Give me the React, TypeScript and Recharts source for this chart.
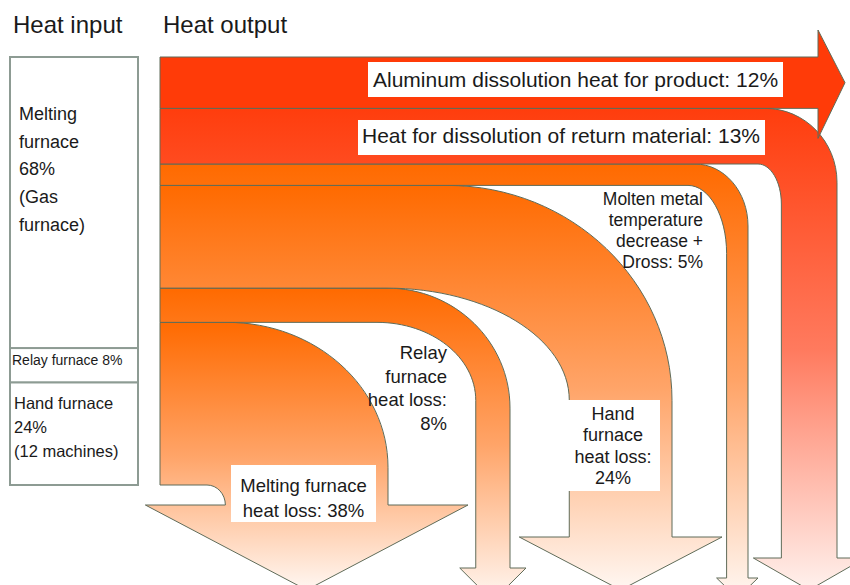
import React from "react"
import { BarChart, Bar, XAxis, YAxis } from "recharts"

const FONT = '"Liberation Sans", Arial, Helvetica, sans-serif'

// heat input (stacked bottom -> top)
const inputKeys = ["hand", "relay", "melting"]
const inputValues = [24, 8, 68]
const inputLabels = [
  ["Hand furnace", "24%", "(12 machines)"],
  ["Relay furnace 8%"],
  ["Melting", "furnace", "68%", "(Gas", "furnace)"],
]

// heat output (stacked bottom -> top)
const outputKeys = ["meltLoss", "relayLoss", "handLoss", "molten", "returnMat", "product"]
const outputValues = [38, 8, 24, 5, 13, 12]
const outputLabels = [
  ["Melting furnace", "heat loss: 38%"],
  ["Relay", "furnace", "heat loss:", "8%"],
  ["Hand", "furnace", "heat loss:", "24%"],
  ["Molten metal", "temperature", "decrease +", "Dross: 5%"],
  ["Heat for dissolution of return material: 13%"],
  ["Aluminum dissolution heat for product: 12%"],
]

const row: Record<string, string | number> = { name: "heat" }
inputKeys.forEach((k, i) => (row[k] = inputValues[i]))
outputKeys.forEach((k, i) => (row[k] = outputValues[i]))
const chartData = [row]

const inputText: Record<string, any> = {
  melting: { x: 19, first: 63, step: 27.7, size: 18 },
  relay: { x: 12, first: 17, step: 0, size: 14 },
  hand: { x: 14, first: 27, step: 24, size: 16.5 },
}

const orange = ["#ff6a00", "#ffa468", "#fff7f2"]
const flowLayout: Record<string, any> = {
  meltLoss: { outerStart: 227, shaftR: 388, outerRy: 145, innerStart: 207, innerRy: 20, arrowY: 505, ext: 80, tipY: 590, colors: orange },
  relayLoss: { outerStart: 387, shaftR: 510, outerRy: 120, innerStart: 377, innerRy: 78, arrowY: 568, ext: 16, tipY: 601, colors: orange },
  handLoss: { outerStart: 447, shaftR: 672, outerRy: 215, innerStart: 387, innerRy: 112, arrowY: 537, ext: 50, tipY: 590, colors: orange },
  molten: { outerStart: 695, shaftR: 748, outerRy: 62, innerStart: 688, innerRy: 68, arrowY: 578, ext: 10, tipY: 598, colors: orange },
  returnMat: { outerStart: 765, shaftR: 837, outerRy: 74, innerStart: 758, innerRy: 40, arrowY: 558, ext: 28, tipY: 590, colors: ["#ff3d0d", "#ff7a5e", "#fff1ed"] },
  product: { end: 818, headUp: 27, headDown: 30, tipX: 845, colors: ["#ff3b08", "#ff3b08", "#ff3b08"] },
}

const labelLayout: Record<string, any> = {
  meltLoss: { box: [231, 465, 145, 57], x: 303.5, y: 492, step: 25, size: 18.5, anchor: "middle" },
  relayLoss: { x: 447, y: 359, step: 23.7, size: 18.5, anchor: "end" },
  handLoss: { box: [568, 400, 92, 91], x: 613, y: 420, step: 21.3, size: 18, anchor: "middle" },
  molten: { x: 703, y: 205, step: 21, size: 17.5, anchor: "end" },
  returnMat: { box: [358, 120, 407, 35], x: 362, y: 143, step: 0, size: 21, anchor: "start" },
  product: { box: [368, 62, 415, 35], x: 373, y: 87, step: 0, size: 21, anchor: "start" },
}

const X0 = 160
const K = 0.5523

function turnPath(yT: number, yB: number, c: any) {
  const t = yB - yT
  const sR = c.shaftR
  const sL = sR - t
  const oRx = sR - c.outerStart
  const oEnd = yT + c.outerRy
  const iRx = sL - c.innerStart
  const iEnd = yB + c.innerRy
  const mid = (sL + sR) / 2
  return [
    `M${X0},${yT}`,
    `L${c.outerStart},${yT}`,
    `C${c.outerStart + K * oRx},${yT} ${sR},${oEnd - K * c.outerRy} ${sR},${oEnd}`,
    `L${sR},${c.arrowY}`,
    `L${sR + c.ext},${c.arrowY}`,
    `L${mid},${c.tipY}`,
    `L${sL - c.ext},${c.arrowY}`,
    `L${sL},${c.arrowY}`,
    `L${sL},${iEnd}`,
    `C${sL},${iEnd - K * c.innerRy} ${c.innerStart + K * iRx},${yB} ${c.innerStart},${yB}`,
    `L${X0},${yB}`,
    "Z",
  ].join(" ")
}

function straightPath(yT: number, yB: number, c: any) {
  return `M${X0},${yT} L${c.end},${yT} L${c.end},${yT - c.headUp} L${c.tipX},${(yT + yB) / 2} L${c.end},${yB + c.headDown} L${c.end},${yB} L${X0},${yB} Z`
}

function InputBlock(props: any) {
  const { y, height, flow } = props
  const top = Math.min(y, y + height)
  const h = Math.abs(height)
  const s = inputText[flow]
  const lines = inputLabels[inputKeys.indexOf(flow)]
  return (
    <g>
      <rect x={10} y={top} width={128} height={h} fill="#fff" stroke="#8d9b93" strokeWidth={2} />
      {lines.map((l, i) => (
        <text key={i} x={s.x} y={top + s.first + s.step * i} fontSize={s.size} fontFamily={FONT} fill="#1a1a1a">
          {l}
        </text>
      ))}
    </g>
  )
}

function FlowBlock(props: any) {
  const { y, height, flow } = props
  const yT = Math.min(y, y + height)
  const yB = Math.max(y, y + height)
  const c = flowLayout[flow]
  const d = flow === "product" ? straightPath(yT, yB, c) : turnPath(yT, yB, c)
  const gid = `grad-${flow}`
  const lab = labelLayout[flow]
  const lines = outputLabels[outputKeys.indexOf(flow)]
  return (
    <g>
      <defs>
        <linearGradient id={gid} gradientUnits="userSpaceOnUse" x1={0} y1={yT} x2={0} y2={c.tipY ?? yB}>
          <stop offset="0" stopColor={c.colors[0]} />
          <stop offset="0.5" stopColor={c.colors[1]} />
          <stop offset="1" stopColor={c.colors[2]} />
        </linearGradient>
      </defs>
      <path d={d} fill={`url(#${gid})`} stroke="#5f6b58" strokeWidth={1} strokeLinejoin="round" />
      {lab.box && <rect x={lab.box[0]} y={lab.box[1]} width={lab.box[2]} height={lab.box[3]} fill="#fff" />}
      {lines.map((l, i) => (
        <text
          key={i}
          x={lab.x}
          y={lab.y + lab.step * i}
          fontSize={lab.size}
          fontFamily={FONT}
          textAnchor={lab.anchor}
          fill="#1a1a1a"
        >
          {l}
        </text>
      ))}
    </g>
  )
}

export default function App() {
  return (
    <div style={{ position: "absolute", left: 0, top: 0, width: 850, height: 585, background: "#fff", fontFamily: FONT }}>
      <div style={{ position: "absolute", left: 13, top: 11, fontSize: 24, color: "#1a1a1a" }}>Heat input</div>
      <div style={{ position: "absolute", left: 163, top: 11, fontSize: 24, color: "#1a1a1a" }}>Heat output</div>
      <BarChart width={850} height={585} data={chartData} margin={{ top: 57, right: 0, bottom: 100, left: 0 }}>
        <XAxis dataKey="name" hide />
        <YAxis type="number" domain={[0, 100]} hide />
        {inputKeys.map((k) => (
          <Bar
            key={k}
            dataKey={k}
            stackId="in"
            isAnimationActive={false}
            shape={(p: any) => <InputBlock {...p} flow={k} />}
          />
        ))}
        {outputKeys.map((k) => (
          <Bar
            key={k}
            dataKey={k}
            stackId="out"
            isAnimationActive={false}
            shape={(p: any) => <FlowBlock {...p} flow={k} />}
          />
        ))}
      </BarChart>
    </div>
  )
}
